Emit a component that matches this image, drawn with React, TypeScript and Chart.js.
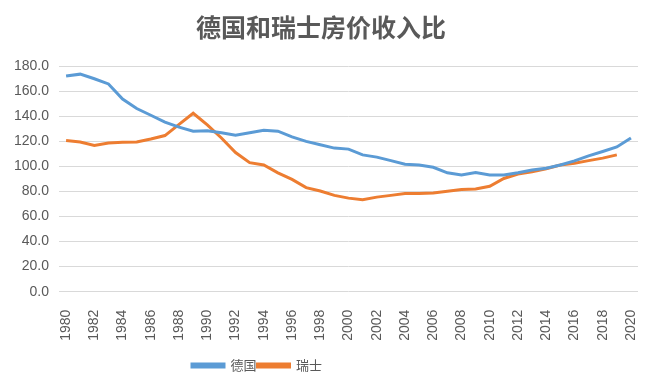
import React, { useEffect, useRef } from "react";
import { Chart, registerables } from "chart.js";

Chart.register(...registerables);

const years: string[] = [];
for (let y = 1980; y <= 2020; y++) years.push(String(y));

const germany = [
  172.0, 173.5, 169.8, 165.7, 153.6, 146.1, 140.7, 135.3, 131.2, 128.0,
  128.3, 126.7, 124.7, 126.7, 128.8, 128.0, 123.4, 119.9, 117.2, 114.5,
  113.7, 109.1, 107.3, 104.5, 101.6, 101.0, 99.2, 94.8, 93.0, 95.1,
  93.0, 93.0, 94.8, 97.0, 98.4, 101.0, 104.3, 108.3, 111.8, 115.4,
  122.6,
];

const switzerland: (number | null)[] = [
  120.5, 119.4, 116.7, 118.6, 119.1, 119.4, 121.8, 124.5, 133.4, 142.3,
  133.0, 122.6, 111.0, 102.9, 101.0, 94.8, 89.5, 83.0, 80.3, 76.8,
  74.6, 73.3, 75.4, 76.8, 78.2, 78.2, 78.7, 80.0, 81.4, 81.9,
  84.1, 90.3, 93.8, 95.6, 98.1, 101.0, 102.4, 104.5, 106.5, 109.1,
  null,
];

const yTicks = { min: 0, max: 180, step: 20 };

const legendShift = {
  id: "legendShift",
  afterLayout(chart: any) {
    const lg = chart.legend;
    if (!lg) return;
    const center = 257;
    const half = 330;
    lg.left = center - half;
    lg.right = center + half;
  },
};

export default function App() {
  const ref = useRef<HTMLCanvasElement>(null);
  useEffect(() => {
    document.body.style.margin = "0";
    const ctx = ref.current!;
    const chart = new Chart(ctx, {
      type: "line",
      plugins: [legendShift],
      data: {
        labels: years,
        datasets: [
          {
            label: "德国",
            data: germany,
            borderColor: "#5B9BD5",
            backgroundColor: "#5B9BD5",
            borderWidth: 3,
            pointRadius: 0,
            tension: 0,
          },
          {
            label: "瑞士",
            data: switzerland,
            borderColor: "#ED7D31",
            backgroundColor: "#ED7D31",
            borderWidth: 3,
            pointRadius: 0,
            tension: 0,
          },
        ],
      },
      options: {
        animation: false,
        responsive: false,
        layout: { padding: { left: 4, right: 22, top: 0, bottom: 10 } },
        plugins: {
          title: {
            display: true,
            text: "德国和瑞士房价收入比",
            color: "#595959",
            font: { family: "'Noto Sans CJK SC', serif", size: 25, weight: 600 },
            padding: { top: 12, bottom: 24 },
          },
          legend: {
            position: "bottom",
            title: {
              display: true,
              text: " ",
              font: { size: 6 },
              padding: { top: 0, bottom: 0 },
            },
            labels: {
              color: "#595959",
              boxWidth: 32,
              boxHeight: 3,
              padding: 1,
              font: { family: "'Noto Sans CJK SC', serif", size: 13 },
            },
          },
          tooltip: { enabled: false },
        },
        scales: {
          x: {
            offset: true,
            grid: { display: false },
            border: { display: false },
            ticks: {
              autoSkip: false,
              maxRotation: 90,
              minRotation: 90,
              color: "#595959",
              font: { family: "'Liberation Sans', sans-serif", size: 14 },
              padding: 10,
              callback: function (value: any, index: number) {
                return index % 2 === 0 ? years[index] : "";
              },
            },
          },
          y: {
            min: yTicks.min,
            max: yTicks.max,
            border: { display: false },
            grid: { color: "#D9D9D9", lineWidth: 1, drawTicks: false },
            ticks: {
              stepSize: yTicks.step,
              color: "#595959",
              padding: 10,
              font: { family: "'Liberation Sans', sans-serif", size: 14 },
              callback: (v: any) => Number(v).toFixed(1),
            },
          },
        },
      },
    });
    return () => chart.destroy();
  }, []);
  return (
    <div style={{ width: 660, height: 392, background: "#fff" }}>
      <canvas ref={ref} width={660} height={392} />
    </div>
  );
}
